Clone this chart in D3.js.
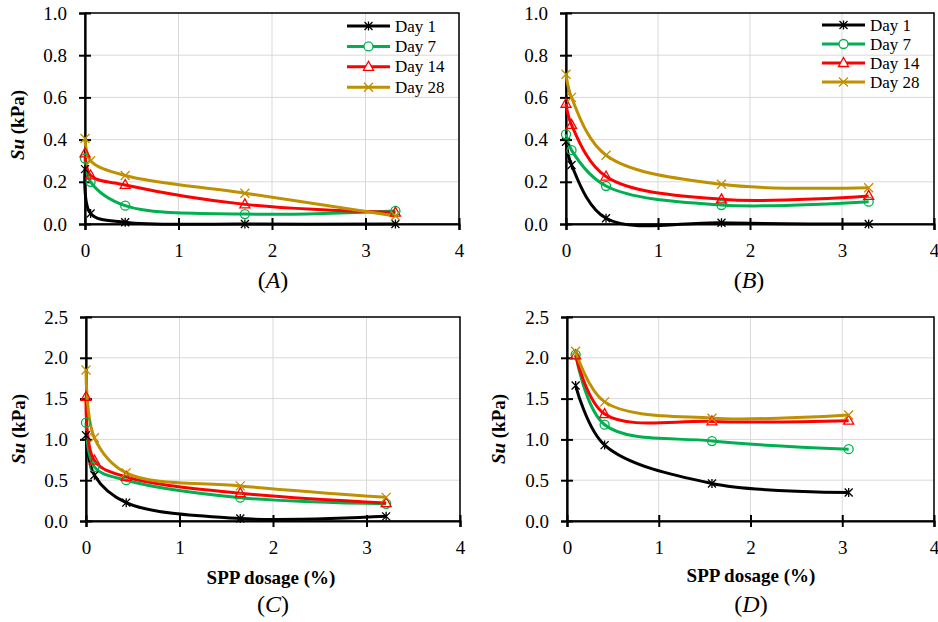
<!DOCTYPE html>
<html>
<head>
<meta charset="utf-8">
<script src="https://cdn.jsdelivr.net/npm/d3@7"></script>
<style>
  body { margin: 0; background: #fff; }
  svg { display: block; }
</style>
</head>
<body>
<div id="chart"></div>
<script>
// Series (same order for every panel)
const seriesNames = ["Day 1", "Day 7", "Day 14", "Day 28"];
const seriesColors = ["#000000", "#00b050", "#ff0000", "#bf9000"];
const seriesMarkers = ["star", "circle", "triangle", "cross"];

// SPP dosage (%) per panel
const dosageA = [0, 0.06, 0.43, 1.71, 3.32];
const dosageB = [0, 0.06, 0.435, 1.69, 3.29];
const dosageC = [0, 0.09, 0.43, 1.65, 3.21];
const dosageD = [0.094, 0.41, 1.58, 3.07];

// Su (kPa) per panel, one row per series
const suA = [
    [0.26, 0.05, 0.008, 0.0, 0.0],
    [0.31, 0.20, 0.087, 0.047, 0.062],
    [0.335, 0.23, 0.185, 0.093, 0.054],
    [0.405, 0.30, 0.23, 0.146, 0.038]
];
const suB = [
    [0.39, 0.28, 0.027, 0.006, 0.0],
    [0.425, 0.35, 0.18, 0.09, 0.106],
    [0.57, 0.47, 0.225, 0.117, 0.133],
    [0.71, 0.60, 0.326, 0.188, 0.172]
];
const suC = [
    [1.05, 0.56, 0.225, 0.03, 0.057],
    [1.205, 0.66, 0.50, 0.286, 0.21],
    [1.52, 0.74, 0.54, 0.34, 0.22],
    [1.85, 1.02, 0.59, 0.43, 0.29]
];
const suD = [
    [1.66, 0.93, 0.46, 0.35],
    [2.04, 1.18, 0.98, 0.88],
    [2.03, 1.31, 1.22, 1.23],
    [2.08, 1.46, 1.26, 1.30]
];

const xTicks = [0, 1, 2, 3, 4];
const yTicksSmall = [0, 0.2, 0.4, 0.6, 0.8, 1.0];
const yTicksLarge = [0, 0.5, 1.0, 1.5, 2.0, 2.5];

const font = "'Liberation Serif', 'Times New Roman', serif";

const svg = d3.select("#chart").append("svg")
    .attr("width", 938)
    .attr("height", 622)
    .style("font-family", font);

const panels = [
    { label: "A", dosage: dosageA, su: suA, yTicks: yTicksSmall, yMax: 1,
      left: 85, right: 459, top: 13, bottom: 224, yTitle: [17, 125], xTitle: null,
      labelPos: [273, 288], legend: { x: 347, y: 26, dy: 20.4 } },
    { label: "B", dosage: dosageB, su: suB, yTicks: yTicksSmall, yMax: 1,
      left: 566, right: 934, top: 13, bottom: 224, yTitle: null, xTitle: null,
      labelPos: [749, 288], legend: { x: 822, y: 25, dy: 19 } },
    { label: "C", dosage: dosageC, su: suC, yTicks: yTicksLarge, yMax: 2.5,
      left: 86, right: 460, top: 317, bottom: 521, yTitle: [18, 429], xTitle: [271, 584],
      labelPos: [273, 612], legend: null },
    { label: "D", dosage: dosageD, su: suD, yTicks: yTicksLarge, yMax: 2.5,
      left: 567, right: 934, top: 317, bottom: 521, yTitle: [498, 429], xTitle: [751, 582],
      labelPos: [751, 612], legend: null }
];

// marker shapes centred on 0,0
function markerPath(type) {
    const p = d3.path();
    if (type === "circle") {
        p.moveTo(4.5, 0);
        p.arc(0, 0, 4.5, 0, 2 * Math.PI);
    } else if (type === "triangle") {
        p.moveTo(0, -5.5); p.lineTo(5, 3.5); p.lineTo(-5, 3.5); p.closePath();
    } else if (type === "cross") {
        p.moveTo(-4.5, -4.5); p.lineTo(4.5, 4.5);
        p.moveTo(4.5, -4.5); p.lineTo(-4.5, 4.5);
    } else {
        p.moveTo(-4, -4); p.lineTo(4, 4);
        p.moveTo(4, -4); p.lineTo(-4, 4);
        p.moveTo(0, -4.5); p.lineTo(0, 4.5);
    }
    return p.toString();
}

panels.forEach(pn => {
    const x = d3.scaleLinear().domain([0, 4]).range([pn.left, pn.right]);
    const y = d3.scaleLinear().domain([0, pn.yMax]).range([pn.bottom, pn.top]);
    const g = svg.append("g");

    // gridlines
    g.selectAll("line.hgrid")
        .data(pn.yTicks.slice(1))
        .enter().append("line")
        .attr("x1", pn.left).attr("x2", pn.right)
        .attr("y1", d => y(d)).attr("y2", d => y(d))
        .attr("stroke", "#d9d9d9").attr("stroke-width", 1);
    g.selectAll("line.vgrid")
        .data(xTicks.slice(1))
        .enter().append("line")
        .attr("x1", d => x(d)).attr("x2", d => x(d))
        .attr("y1", pn.top).attr("y2", pn.bottom)
        .attr("stroke", "#d9d9d9").attr("stroke-width", 1);

    // plot area border
    g.append("rect")
        .attr("x", pn.left).attr("y", pn.top)
        .attr("width", pn.right - pn.left).attr("height", pn.bottom - pn.top)
        .attr("fill", "none").attr("stroke", "#000").attr("stroke-width", 1.5);

    // y axis with crossing ticks
    const yAxis = g.append("g")
        .attr("transform", `translate(${pn.left},0)`)
        .call(d3.axisLeft(y).tickValues(pn.yTicks).tickSize(6).tickPadding(12)
            .tickFormat(d3.format(".1f")));
    yAxis.attr("font-family", font).attr("font-size", 19);
    yAxis.select(".domain").attr("stroke-width", 2.2);
    yAxis.selectAll(".tick line").attr("x1", 6).attr("x2", -6).attr("stroke-width", 2);
    yAxis.selectAll(".tick text").attr("fill", "#000");

    // x axis with crossing ticks
    const xAxis = g.append("g")
        .attr("transform", `translate(0,${pn.bottom})`)
        .call(d3.axisBottom(x).tickValues(xTicks).tickSize(6).tickPadding(14)
            .tickFormat(d3.format("d")));
    xAxis.attr("font-family", font).attr("font-size", 19);
    xAxis.select(".domain").attr("stroke-width", 2.2);
    xAxis.selectAll(".tick line").attr("y1", -6).attr("y2", 6).attr("stroke-width", 2);
    xAxis.selectAll(".tick text").attr("fill", "#000");

    // smoothed lines
    const line = d3.line()
        .x((d, i) => x(pn.dosage[i]))
        .y(d => y(d))
        .curve(d3.curveCatmullRom.alpha(0.5));

    pn.su.forEach((vals, s) => {
        g.append("path")
            .datum(vals)
            .attr("d", line)
            .attr("fill", "none")
            .attr("stroke", seriesColors[s])
            .attr("stroke-width", 3);
    });

    pn.su.forEach((vals, s) => {
        g.selectAll(null)
            .data(vals)
            .enter().append("path")
            .attr("transform", (d, i) => `translate(${x(pn.dosage[i])},${y(d)})`)
            .attr("d", markerPath(seriesMarkers[s]))
            .attr("fill", "none")
            .attr("stroke", seriesColors[s])
            .attr("stroke-width", 1.3);
    });

    // axis titles
    if (pn.yTitle) {
        const t = svg.append("text")
            .attr("transform", `translate(${pn.yTitle[0]},${pn.yTitle[1]}) rotate(-90)`)
            .attr("text-anchor", "middle")
            .attr("dominant-baseline", "central")
            .attr("font-family", font).attr("font-size", 19).attr("font-weight", "bold");
        t.append("tspan").attr("font-style", "italic").text("Su");
        t.append("tspan").text(" (kPa)");
    }
    if (pn.xTitle) {
        svg.append("text")
            .attr("x", pn.xTitle[0]).attr("y", pn.xTitle[1])
            .attr("text-anchor", "middle")
            .attr("font-family", font).attr("font-size", 19).attr("font-weight", "bold")
            .text("SPP dosage (%)");
    }

    // panel label
    const lab = svg.append("text")
        .attr("x", pn.labelPos[0]).attr("y", pn.labelPos[1])
        .attr("text-anchor", "middle")
        .attr("font-family", font).attr("font-size", 24);
    lab.append("tspan").text("(");
    lab.append("tspan").attr("font-style", "italic").text(pn.label);
    lab.append("tspan").text(")");

    // legend
    if (pn.legend) {
        const lg = svg.append("g");
        seriesNames.forEach((name, s) => {
            const ly = pn.legend.y + s * pn.legend.dy;
            lg.append("line")
                .attr("x1", pn.legend.x).attr("x2", pn.legend.x + 43)
                .attr("y1", ly).attr("y2", ly)
                .attr("stroke", seriesColors[s]).attr("stroke-width", 3);
            lg.append("path")
                .attr("transform", `translate(${pn.legend.x + 21.5},${ly})`)
                .attr("d", markerPath(seriesMarkers[s]))
                .attr("fill", s === 0 ? "none" : "#fff")
                .attr("stroke", seriesColors[s]).attr("stroke-width", 1.3);
            lg.append("text")
                .attr("x", pn.legend.x + 48).attr("y", ly)
                .attr("dominant-baseline", "central")
                .attr("font-family", font).attr("font-size", 17)
                .text(name);
        });
    }
});
</script>
</body>
</html>
